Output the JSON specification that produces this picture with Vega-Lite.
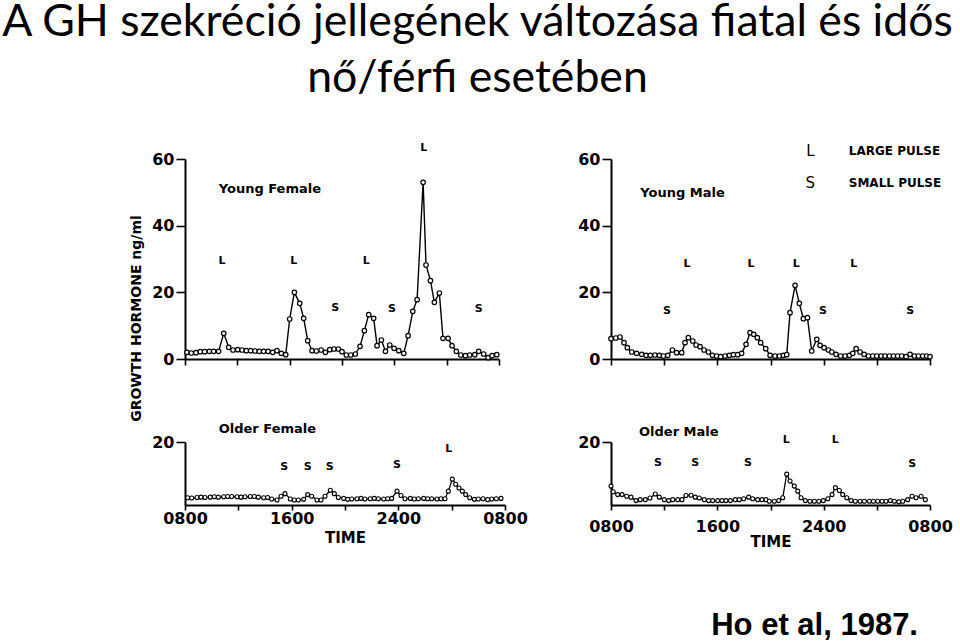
{
  "$schema": "https://vega.github.io/schema/vega-lite/v6.json",
  "padding": {"left": 0, "top": 0, "right": 0, "bottom": 0},
  "background": "white",
  "title": {
    "text": ["A GH szekréció jellegének változása fiatal és idős", "nő/férfi esetében"],
    "font": "Lato", "fontSize": 44.6, "fontWeight": "normal", "color": "black",
    "anchor": "start", "frame": "bounds", "align": "center", "dx": 348.5,
    "lineHeight": 56, "offset": 40
  },
  "datasets": {
    "yf": [
      {"t":0.15,"gh":2.0},{"t":0.48,"gh":1.8},{"t":0.84,"gh":1.9},{"t":1.17,"gh":2.2},{"t":1.5,"gh":2.2},{"t":1.86,"gh":2.3},{"t":2.19,"gh":2.3},{"t":2.57,"gh":2.3},{"t":2.96,"gh":7.7},{"t":3.34,"gh":3.5},{"t":3.67,"gh":2.7},{"t":4.03,"gh":2.8},{"t":4.36,"gh":2.7},{"t":4.69,"gh":2.5},{"t":5.02,"gh":2.5},{"t":5.35,"gh":2.4},{"t":5.68,"gh":2.3},{"t":6.01,"gh":2.3},{"t":6.35,"gh":2.3},{"t":6.7,"gh":2.0},{"t":7.03,"gh":2.5},{"t":7.36,"gh":1.7},{"t":7.7,"gh":1.3},{"t":8.0,"gh":12.0},{"t":8.36,"gh":20.0},{"t":8.77,"gh":16.7},{"t":9.07,"gh":12.2},{"t":9.38,"gh":5.5},{"t":9.71,"gh":2.5},{"t":10.04,"gh":2.4},{"t":10.4,"gh":2.7},{"t":10.73,"gh":2.0},{"t":11.06,"gh":2.8},{"t":11.39,"gh":3.0},{"t":11.72,"gh":3.0},{"t":12.0,"gh":2.2},{"t":12.33,"gh":1.2},{"t":12.67,"gh":1.2},{"t":13.02,"gh":1.5},{"t":13.38,"gh":3.8},{"t":13.71,"gh":8.5},{"t":14.04,"gh":13.3},{"t":14.42,"gh":12.2},{"t":14.68,"gh":4.0},{"t":15.01,"gh":5.7},{"t":15.32,"gh":2.3},{"t":15.65,"gh":4.2},{"t":15.98,"gh":3.2},{"t":16.34,"gh":2.5},{"t":16.72,"gh":1.7},{"t":17.05,"gh":7.0},{"t":17.41,"gh":14.3},{"t":17.74,"gh":17.8},{"t":18.2,"gh":53.0},{"t":18.42,"gh":28.2},{"t":18.76,"gh":23.5},{"t":19.06,"gh":17.0},{"t":19.44,"gh":19.8},{"t":19.72,"gh":6.2},{"t":20.11,"gh":6.2},{"t":20.41,"gh":4.0},{"t":20.74,"gh":2.3},{"t":21.08,"gh":1.2},{"t":21.43,"gh":1.0},{"t":21.76,"gh":1.2},{"t":22.15,"gh":1.3},{"t":22.45,"gh":2.3},{"t":22.83,"gh":1.5},{"t":23.17,"gh":0.4},{"t":23.47,"gh":1.0},{"t":23.83,"gh":1.3}
    ],
    "ym": [
      {"t":0.0,"gh":6.1},{"t":0.36,"gh":6.3},{"t":0.68,"gh":6.6},{"t":0.98,"gh":4.9},{"t":1.23,"gh":3.4},{"t":1.56,"gh":2.1},{"t":1.93,"gh":1.7},{"t":2.31,"gh":1.4},{"t":2.64,"gh":1.1},{"t":2.96,"gh":1.1},{"t":3.31,"gh":1.2},{"t":3.64,"gh":1.1},{"t":3.94,"gh":0.9},{"t":4.27,"gh":1.1},{"t":4.62,"gh":2.7},{"t":4.94,"gh":1.9},{"t":5.32,"gh":1.9},{"t":5.57,"gh":4.9},{"t":5.82,"gh":6.4},{"t":6.15,"gh":5.4},{"t":6.4,"gh":4.2},{"t":6.7,"gh":3.7},{"t":7.0,"gh":2.7},{"t":7.33,"gh":2.1},{"t":7.63,"gh":1.1},{"t":7.95,"gh":0.9},{"t":8.25,"gh":0.7},{"t":8.58,"gh":0.9},{"t":8.91,"gh":1.1},{"t":9.21,"gh":1.3},{"t":9.53,"gh":1.3},{"t":9.83,"gh":1.7},{"t":10.16,"gh":4.4},{"t":10.46,"gh":7.9},{"t":10.74,"gh":7.4},{"t":11.01,"gh":6.4},{"t":11.26,"gh":4.9},{"t":11.64,"gh":3.1},{"t":11.97,"gh":1.1},{"t":12.34,"gh":0.9},{"t":12.67,"gh":0.9},{"t":12.97,"gh":1.1},{"t":13.22,"gh":1.3},{"t":13.47,"gh":13.9},{"t":13.85,"gh":22.1},{"t":14.17,"gh":16.7},{"t":14.47,"gh":12.1},{"t":14.78,"gh":12.4},{"t":15.1,"gh":2.4},{"t":15.48,"gh":5.9},{"t":15.73,"gh":4.1},{"t":16.03,"gh":3.4},{"t":16.36,"gh":2.7},{"t":16.61,"gh":2.1},{"t":16.93,"gh":1.4},{"t":17.28,"gh":0.9},{"t":17.61,"gh":0.9},{"t":17.94,"gh":1.1},{"t":18.19,"gh":1.7},{"t":18.44,"gh":3.1},{"t":18.74,"gh":2.1},{"t":19.04,"gh":1.4},{"t":19.37,"gh":0.9},{"t":19.69,"gh":0.9},{"t":19.99,"gh":0.9},{"t":20.32,"gh":0.9},{"t":20.62,"gh":0.9},{"t":20.95,"gh":0.9},{"t":21.25,"gh":0.9},{"t":21.57,"gh":0.9},{"t":21.87,"gh":0.9},{"t":22.2,"gh":0.7},{"t":22.5,"gh":1.4},{"t":22.83,"gh":0.9},{"t":23.13,"gh":0.9},{"t":23.45,"gh":0.9},{"t":23.75,"gh":0.9},{"t":24.0,"gh":0.7}
    ],
    "of": [
      {"t":0.2,"gh":2.3},{"t":0.5,"gh":2.2},{"t":0.9,"gh":2.4},{"t":1.2,"gh":2.5},{"t":1.5,"gh":2.4},{"t":1.9,"gh":2.5},{"t":2.2,"gh":2.6},{"t":2.5,"gh":2.5},{"t":2.9,"gh":2.6},{"t":3.2,"gh":2.7},{"t":3.5,"gh":2.7},{"t":3.9,"gh":2.6},{"t":4.2,"gh":2.5},{"t":4.5,"gh":2.6},{"t":4.9,"gh":2.7},{"t":5.2,"gh":2.7},{"t":5.5,"gh":2.5},{"t":5.9,"gh":2.3},{"t":6.2,"gh":2.4},{"t":6.5,"gh":1.9},{"t":6.9,"gh":1.6},{"t":7.2,"gh":2.8},{"t":7.5,"gh":3.6},{"t":7.9,"gh":1.9},{"t":8.2,"gh":1.6},{"t":8.5,"gh":1.6},{"t":8.9,"gh":1.8},{"t":9.2,"gh":3.3},{"t":9.5,"gh":2.8},{"t":9.9,"gh":1.6},{"t":10.2,"gh":1.6},{"t":10.5,"gh":2.8},{"t":10.9,"gh":4.7},{"t":11.2,"gh":3.6},{"t":11.5,"gh":2.4},{"t":11.9,"gh":2.1},{"t":12.2,"gh":1.8},{"t":12.5,"gh":1.9},{"t":12.9,"gh":2.0},{"t":13.2,"gh":2.1},{"t":13.5,"gh":1.9},{"t":13.9,"gh":2.0},{"t":14.2,"gh":2.1},{"t":14.5,"gh":2.0},{"t":14.9,"gh":1.9},{"t":15.2,"gh":2.0},{"t":15.5,"gh":2.1},{"t":15.9,"gh":4.4},{"t":16.2,"gh":3.0},{"t":16.5,"gh":2.0},{"t":16.9,"gh":2.1},{"t":17.2,"gh":1.9},{"t":17.5,"gh":2.0},{"t":17.9,"gh":2.1},{"t":18.2,"gh":2.0},{"t":18.5,"gh":2.0},{"t":18.9,"gh":1.9},{"t":19.2,"gh":2.0},{"t":19.5,"gh":2.0},{"t":19.75,"gh":4.4},{"t":20.05,"gh":8.2},{"t":20.3,"gh":6.6},{"t":20.55,"gh":5.4},{"t":20.8,"gh":4.4},{"t":21.05,"gh":3.3},{"t":21.35,"gh":2.3},{"t":21.7,"gh":1.8},{"t":22.0,"gh":1.9},{"t":22.35,"gh":2.0},{"t":22.7,"gh":1.7},{"t":23.0,"gh":1.9},{"t":23.35,"gh":2.0},{"t":23.7,"gh":2.1}
    ],
    "om": [
      {"t":0.0,"gh":6.0},{"t":0.17,"gh":4.2},{"t":0.5,"gh":3.3},{"t":0.83,"gh":3.3},{"t":1.18,"gh":2.8},{"t":1.5,"gh":2.5},{"t":1.88,"gh":1.4},{"t":2.2,"gh":1.7},{"t":2.58,"gh":1.7},{"t":2.93,"gh":2.2},{"t":3.33,"gh":3.5},{"t":3.63,"gh":2.5},{"t":4.01,"gh":1.7},{"t":4.34,"gh":1.4},{"t":4.64,"gh":1.7},{"t":5.02,"gh":1.7},{"t":5.34,"gh":1.7},{"t":5.64,"gh":3.0},{"t":6.02,"gh":3.1},{"t":6.34,"gh":2.5},{"t":6.64,"gh":2.2},{"t":7.02,"gh":1.7},{"t":7.35,"gh":1.4},{"t":7.65,"gh":1.4},{"t":8.03,"gh":1.4},{"t":8.35,"gh":1.4},{"t":8.65,"gh":1.4},{"t":8.98,"gh":1.4},{"t":9.35,"gh":1.7},{"t":9.65,"gh":1.7},{"t":9.98,"gh":2.0},{"t":10.36,"gh":2.5},{"t":10.66,"gh":2.0},{"t":11.04,"gh":1.7},{"t":11.36,"gh":1.7},{"t":11.66,"gh":1.7},{"t":11.91,"gh":1.2},{"t":12.29,"gh":1.2},{"t":12.62,"gh":1.4},{"t":12.92,"gh":2.3},{"t":13.22,"gh":9.8},{"t":13.47,"gh":7.6},{"t":13.79,"gh":6.0},{"t":14.05,"gh":4.4},{"t":14.3,"gh":2.3},{"t":14.62,"gh":1.4},{"t":14.97,"gh":1.2},{"t":15.3,"gh":1.2},{"t":15.63,"gh":1.2},{"t":15.97,"gh":1.4},{"t":16.31,"gh":2.0},{"t":16.63,"gh":3.3},{"t":16.88,"gh":5.5},{"t":17.18,"gh":4.6},{"t":17.43,"gh":3.3},{"t":17.74,"gh":2.3},{"t":18.06,"gh":1.4},{"t":18.38,"gh":1.2},{"t":18.74,"gh":1.2},{"t":19.06,"gh":1.2},{"t":19.44,"gh":1.2},{"t":19.74,"gh":1.2},{"t":20.07,"gh":1.2},{"t":20.39,"gh":1.2},{"t":20.69,"gh":1.2},{"t":21.02,"gh":1.4},{"t":21.32,"gh":1.2},{"t":21.65,"gh":1.0},{"t":21.95,"gh":1.2},{"t":22.32,"gh":1.7},{"t":22.65,"gh":2.8},{"t":22.95,"gh":2.3},{"t":23.33,"gh":2.8},{"t":23.65,"gh":1.7}
    ],
    "ann": [
      {"panel":"YF","kind":"pulse","t":2.83,"gh":29.5,"label":"L"},
      {"panel":"YF","kind":"pulse","t":8.31,"gh":29.5,"label":"L"},
      {"panel":"YF","kind":"pulse","t":11.49,"gh":15.3,"label":"S"},
      {"panel":"YF","kind":"pulse","t":13.86,"gh":29.3,"label":"L"},
      {"panel":"YF","kind":"pulse","t":15.82,"gh":15.0,"label":"S"},
      {"panel":"YF","kind":"pulse","t":18.24,"gh":63.3,"label":"L"},
      {"panel":"YF","kind":"pulse","t":22.45,"gh":15.1,"label":"S"},
      {"panel":"YF","kind":"name","t":2.58,"gh":51.1,"label":"Young Female"},
      {"panel":"YM","kind":"pulse","t":4.21,"gh":14.3,"label":"S"},
      {"panel":"YM","kind":"pulse","t":5.72,"gh":28.5,"label":"L"},
      {"panel":"YM","kind":"pulse","t":10.53,"gh":28.5,"label":"L"},
      {"panel":"YM","kind":"pulse","t":13.94,"gh":28.5,"label":"L"},
      {"panel":"YM","kind":"pulse","t":15.95,"gh":14.5,"label":"S"},
      {"panel":"YM","kind":"pulse","t":18.26,"gh":28.5,"label":"L"},
      {"panel":"YM","kind":"pulse","t":22.52,"gh":14.5,"label":"S"},
      {"panel":"YM","kind":"name","t":2.2,"gh":49.8,"label":"Young Male"},
      {"panel":"YM","kind":"key","t":15.0,"gh":62.3,"label":"L"},
      {"panel":"YM","kind":"key","t":15.0,"gh":52.8,"label":"S"},
      {"panel":"YM","kind":"keytext","t":17.89,"gh":62.3,"label":"LARGE PULSE"},
      {"panel":"YM","kind":"keytext","t":17.89,"gh":52.8,"label":"SMALL PULSE"},
      {"panel":"OF","kind":"pulse","t":7.45,"gh":12.1,"label":"S"},
      {"panel":"OF","kind":"pulse","t":9.2,"gh":12.1,"label":"S"},
      {"panel":"OF","kind":"pulse","t":10.85,"gh":12.1,"label":"S"},
      {"panel":"OF","kind":"pulse","t":15.9,"gh":12.6,"label":"S"},
      {"panel":"OF","kind":"pulse","t":19.78,"gh":17.9,"label":"L"},
      {"panel":"OF","kind":"name","t":2.53,"gh":24.2,"label":"Older Female"},
      {"panel":"OM","kind":"pulse","t":3.54,"gh":13.3,"label":"S"},
      {"panel":"OM","kind":"pulse","t":6.34,"gh":13.3,"label":"S"},
      {"panel":"OM","kind":"pulse","t":10.31,"gh":13.3,"label":"S"},
      {"panel":"OM","kind":"pulse","t":13.19,"gh":20.7,"label":"L"},
      {"panel":"OM","kind":"pulse","t":16.88,"gh":20.7,"label":"L"},
      {"panel":"OM","kind":"pulse","t":22.67,"gh":13.0,"label":"S"},
      {"panel":"OM","kind":"name","t":2.11,"gh":23.1,"label":"Older Male"}
    ]
  },
  "columns": 2,
  "bounds": "flush",
  "spacing": {"row": 83, "column": 106},
  "concat": [
    {
      "width": 314, "height": 200,
      "encoding": {
        "x": {"field": "t", "type": "quantitative", "scale": {"domain": [0, 24], "nice": false, "zero": false},
              "axis": {"values": [0, 4, 8, 12, 16, 20, 24], "labels": false, "tickSize": 6, "title": null}},
        "y": {"field": "gh", "type": "quantitative", "scale": {"domain": [0, 60], "nice": false},
              "axis": {"values": [0, 20, 40, 60], "tickSize": 9, "labelPadding": 2, "title": "GROWTH HORMONE  ng/ml", "titleFontSize": 14, "titleX": -42, "titleY": 159}}
      },
      "layer": [
        {"data": {"name": "yf"}, "mark": {"type": "line", "color": "black", "strokeWidth": 1.4}},
        {"data": {"name": "yf"}, "mark": {"type": "point", "filled": false, "fill": "white", "stroke": "black", "size": 20, "strokeWidth": 1.2, "opacity": 1}},
        {"data": {"name": "ann"}, "transform": [{"filter": "datum.panel === 'YF' && datum.kind === 'pulse'"}],
         "mark": {"type": "text", "fontSize": 11, "fontWeight": "bold", "color": "black"}, "encoding": {"text": {"field": "label"}}},
        {"data": {"name": "ann"}, "transform": [{"filter": "datum.panel === 'YF' && datum.kind === 'name'"}],
         "mark": {"type": "text", "fontSize": 13, "fontWeight": "bold", "align": "left", "color": "black"}, "encoding": {"text": {"field": "label"}}}
      ]
    },
    {
      "width": 319, "height": 200,
      "encoding": {
        "x": {"field": "t", "type": "quantitative", "scale": {"domain": [0, 24], "nice": false, "zero": false},
              "axis": {"values": [0, 4, 8, 12, 16, 20, 24], "labels": false, "tickSize": 6, "title": null}},
        "y": {"field": "gh", "type": "quantitative", "scale": {"domain": [0, 60], "nice": false},
              "axis": {"values": [0, 20, 40, 60], "tickSize": 9, "labelPadding": 2, "title": null}}
      },
      "layer": [
        {"data": {"name": "ym"}, "mark": {"type": "line", "color": "black", "strokeWidth": 1.4}},
        {"data": {"name": "ym"}, "mark": {"type": "point", "filled": false, "fill": "white", "stroke": "black", "size": 20, "strokeWidth": 1.2, "opacity": 1}},
        {"data": {"name": "ann"}, "transform": [{"filter": "datum.panel === 'YM' && datum.kind === 'pulse'"}],
         "mark": {"type": "text", "fontSize": 11, "fontWeight": "bold", "color": "black"}, "encoding": {"text": {"field": "label"}}},
        {"data": {"name": "ann"}, "transform": [{"filter": "datum.panel === 'YM' && datum.kind === 'name'"}],
         "mark": {"type": "text", "fontSize": 13, "fontWeight": "bold", "align": "left", "color": "black"}, "encoding": {"text": {"field": "label"}}},
        {"data": {"name": "ann"}, "transform": [{"filter": "datum.panel === 'YM' && datum.kind === 'key'"}],
         "mark": {"type": "text", "fontSize": 15, "fontWeight": "normal", "color": "black"}, "encoding": {"text": {"field": "label"}}},
        {"data": {"name": "ann"}, "transform": [{"filter": "datum.panel === 'YM' && datum.kind === 'keytext'"}],
         "mark": {"type": "text", "fontSize": 12, "fontWeight": "bold", "align": "left", "color": "black"}, "encoding": {"text": {"field": "label"}}}
      ]
    },
    {
      "width": 320, "height": 63,
      "encoding": {
        "x": {"field": "t", "type": "quantitative", "scale": {"domain": [0, 24], "nice": false, "zero": false},
              "axis": {"values": [0, 4, 8, 12, 16, 20, 24], "tickSize": 5, "labelPadding": 0, "labelFlush": false, "labelOverlap": false,
                       "labelExpr": "datum.value == 0 || datum.value == 24 ? '0800' : datum.value == 8 ? '1600' : datum.value == 16 ? '2400' : ''",
                       "title": "TIME", "titleFontSize": 15, "titlePadding": 4}},
        "y": {"field": "gh", "type": "quantitative", "scale": {"domain": [0, 20], "nice": false},
              "axis": {"values": [20], "tickSize": 9, "labelPadding": 2, "title": null}}
      },
      "layer": [
        {"data": {"name": "of"}, "mark": {"type": "line", "color": "black", "strokeWidth": 1.3}},
        {"data": {"name": "of"}, "mark": {"type": "point", "filled": false, "fill": "white", "stroke": "black", "size": 16, "strokeWidth": 1.1, "opacity": 1}},
        {"data": {"name": "ann"}, "transform": [{"filter": "datum.panel === 'OF' && datum.kind === 'pulse'"}],
         "mark": {"type": "text", "fontSize": 11, "fontWeight": "bold", "color": "black"}, "encoding": {"text": {"field": "label"}}},
        {"data": {"name": "ann"}, "transform": [{"filter": "datum.panel === 'OF' && datum.kind === 'name'"}],
         "mark": {"type": "text", "fontSize": 13, "fontWeight": "bold", "align": "left", "color": "black"}, "encoding": {"text": {"field": "label"}}}
      ]
    },
    {
      "width": 319, "height": 63,
      "title": {"text": "Ho et al, 1987.", "orient": "bottom", "anchor": "end", "frame": "group", "font": "Liberation Sans", "fontSize": 31, "fontWeight": "bold", "color": "black", "offset": 62, "dx": -12},
      "encoding": {
        "x": {"field": "t", "type": "quantitative", "scale": {"domain": [0, 24], "nice": false, "zero": false},
              "axis": {"values": [0, 4, 8, 12, 16, 20, 24], "tickSize": 5, "labelPadding": 8, "labelFlush": false, "labelOverlap": false,
                       "labelExpr": "datum.value == 0 || datum.value == 24 ? '0800' : datum.value == 8 ? '1600' : datum.value == 16 ? '2400' : ''",
                       "title": "TIME", "titleFontSize": 15, "titlePadding": 0}},
        "y": {"field": "gh", "type": "quantitative", "scale": {"domain": [0, 20], "nice": false},
              "axis": {"values": [20], "tickSize": 9, "labelPadding": 2, "title": null}}
      },
      "layer": [
        {"data": {"name": "om"}, "mark": {"type": "line", "color": "black", "strokeWidth": 1.3}},
        {"data": {"name": "om"}, "mark": {"type": "point", "filled": false, "fill": "white", "stroke": "black", "size": 16, "strokeWidth": 1.1, "opacity": 1}},
        {"data": {"name": "ann"}, "transform": [{"filter": "datum.panel === 'OM' && datum.kind === 'pulse'"}],
         "mark": {"type": "text", "fontSize": 11, "fontWeight": "bold", "color": "black"}, "encoding": {"text": {"field": "label"}}},
        {"data": {"name": "ann"}, "transform": [{"filter": "datum.panel === 'OM' && datum.kind === 'name'"}],
         "mark": {"type": "text", "fontSize": 13, "fontWeight": "bold", "align": "left", "color": "black"}, "encoding": {"text": {"field": "label"}}}
      ]
    }
  ],
  "config": {
    "view": {"stroke": null},
    "font": "DejaVu Sans",
    "text": {"font": "DejaVu Sans"},
    "axis": {
      "grid": false, "domainColor": "black", "domainWidth": 2, "tickColor": "black", "tickWidth": 1.6,
      "labelColor": "black", "labelFont": "DejaVu Sans", "labelFontSize": 16, "labelFontWeight": "bold",
      "titleColor": "black", "titleFont": "DejaVu Sans", "titleFontWeight": "bold"
    }
  }
}
